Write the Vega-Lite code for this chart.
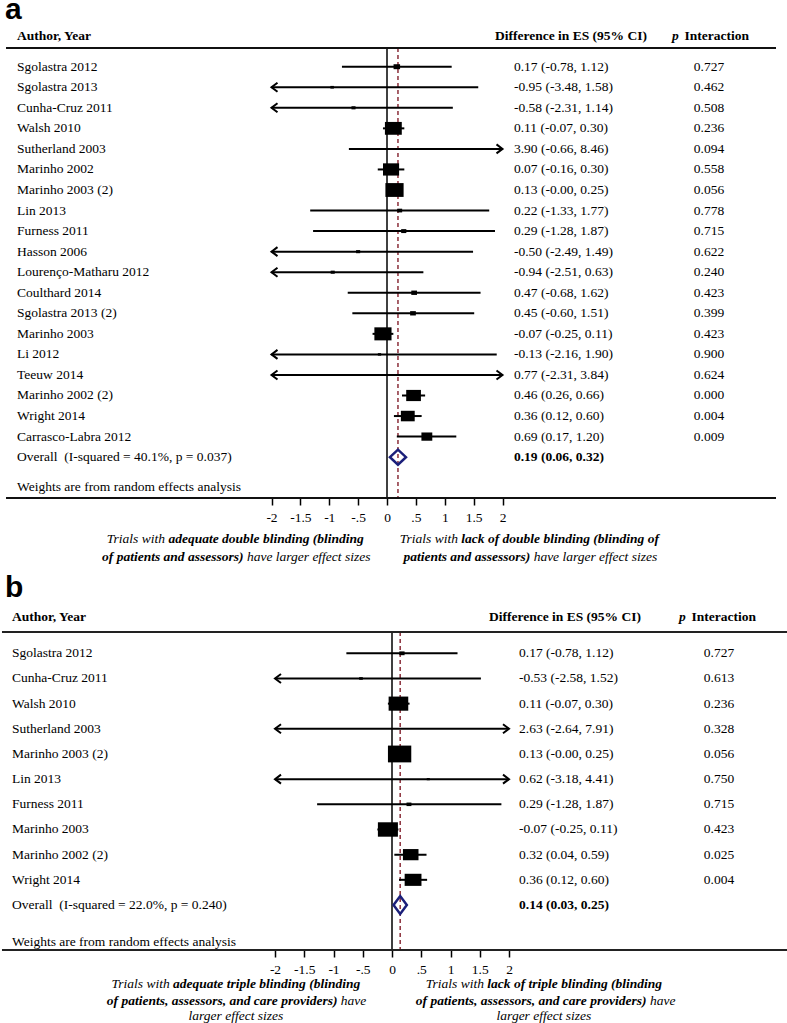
{
"$schema": "https://vega.github.io/schema/vega-lite/v6.json",
"padding": {"top": -5, "bottom": 0, "left": 0, "right": 0},
"spacing": 70,
"bounds": "flush",
"background": "white",
"config": {"view": {"stroke": null}, "text": {"font": "Liberation Serif", "fontSize": 13.5, "color": "black"}},
"datasets": {
"a_rows": [
{"row": 1, "study": "Sgolastra 2012", "es": 0.17, "lo": -0.78, "hi": 1.12, "wt": 2.2, "ci": "0.17 (-0.78, 1.12)", "p": "0.727"},
{"row": 2, "study": "Sgolastra 2013", "es": -0.95, "lo": -3.48, "hi": 1.58, "wt": 0.64, "ci": "-0.95 (-3.48, 1.58)", "p": "0.462"},
{"row": 3, "study": "Cunha-Cruz 2011", "es": -0.58, "lo": -2.31, "hi": 1.14, "wt": 0.86, "ci": "-0.58 (-2.31, 1.14)", "p": "0.508"},
{"row": 4, "study": "Walsh 2010", "es": 0.11, "lo": -0.07, "hi": 0.30, "wt": 14.7, "ci": "0.11 (-0.07, 0.30)", "p": "0.236"},
{"row": 5, "study": "Sutherland 2003", "es": 3.90, "lo": -0.66, "hi": 8.46, "wt": 0.14, "ci": "3.90 (-0.66, 8.46)", "p": "0.094"},
{"row": 6, "study": "Marinho 2002", "es": 0.07, "lo": -0.16, "hi": 0.30, "wt": 13.4, "ci": "0.07 (-0.16, 0.30)", "p": "0.558"},
{"row": 7, "study": "Marinho 2003 (2)", "es": 0.13, "lo": -0.00, "hi": 0.25, "wt": 17.1, "ci": "0.13 (-0.00, 0.25)", "p": "0.056"},
{"row": 8, "study": "Lin 2013", "es": 0.22, "lo": -1.33, "hi": 1.77, "wt": 1.24, "ci": "0.22 (-1.33, 1.77)", "p": "0.778"},
{"row": 9, "study": "Furness 2011", "es": 0.29, "lo": -1.28, "hi": 1.87, "wt": 1.38, "ci": "0.29 (-1.28, 1.87)", "p": "0.715"},
{"row": 10, "study": "Hasson 2006", "es": -0.50, "lo": -2.49, "hi": 1.49, "wt": 0.86, "ci": "-0.50 (-2.49, 1.49)", "p": "0.622"},
{"row": 11, "study": "Lourenço-Matharu 2012", "es": -0.94, "lo": -2.51, "hi": 0.63, "wt": 0.86, "ci": "-0.94 (-2.51, 0.63)", "p": "0.240"},
{"row": 12, "study": "Coulthard 2014", "es": 0.47, "lo": -0.68, "hi": 1.62, "wt": 1.69, "ci": "0.47 (-0.68, 1.62)", "p": "0.423"},
{"row": 13, "study": "Sgolastra 2013 (2)", "es": 0.45, "lo": -0.60, "hi": 1.51, "wt": 1.69, "ci": "0.45 (-0.60, 1.51)", "p": "0.399"},
{"row": 14, "study": "Marinho 2003", "es": -0.07, "lo": -0.25, "hi": 0.11, "wt": 15.2, "ci": "-0.07 (-0.25, 0.11)", "p": "0.423"},
{"row": 15, "study": "Li 2012", "es": -0.13, "lo": -2.16, "hi": 1.90, "wt": 0.55, "ci": "-0.13 (-2.16, 1.90)", "p": "0.900"},
{"row": 16, "study": "Teeuw 2014", "es": 0.77, "lo": -2.31, "hi": 3.84, "wt": 0.31, "ci": "0.77 (-2.31, 3.84)", "p": "0.624"},
{"row": 17, "study": "Marinho 2002 (2)", "es": 0.46, "lo": 0.26, "hi": 0.66, "wt": 11.2, "ci": "0.46 (0.26, 0.66)", "p": "0.000"},
{"row": 18, "study": "Wright 2014", "es": 0.36, "lo": 0.12, "hi": 0.60, "wt": 9.9, "ci": "0.36 (0.12, 0.60)", "p": "0.004"},
{"row": 19, "study": "Carrasco-Labra 2012", "es": 0.69, "lo": 0.17, "hi": 1.20, "wt": 6.1, "ci": "0.69 (0.17, 1.20)", "p": "0.009"}
],
"a_overall": [
{"row": 20, "label": "Overall\u00a0 (I-squared = 40.1%, p = 0.037)", "es": 0.19, "lo": 0.06, "hi": 0.32, "ci": "0.19 (0.06, 0.32)"}
],
"b_rows": [
{"row": 1, "study": "Sgolastra 2012", "es": 0.17, "lo": -0.78, "hi": 1.12, "wt": 1.44, "ci": "0.17 (-0.78, 1.12)", "p": "0.727"},
{"row": 2, "study": "Cunha-Cruz 2011", "es": -0.53, "lo": -2.58, "hi": 1.52, "wt": 0.70, "ci": "-0.53 (-2.58, 1.52)", "p": "0.613"},
{"row": 3, "study": "Walsh 2010", "es": 0.11, "lo": -0.07, "hi": 0.30, "wt": 19.9, "ci": "0.11 (-0.07, 0.30)", "p": "0.236"},
{"row": 4, "study": "Sutherland 2003", "es": 2.63, "lo": -2.64, "hi": 7.91, "wt": 0.31, "ci": "2.63 (-2.64, 7.91)", "p": "0.328"},
{"row": 5, "study": "Marinho 2003 (2)", "es": 0.13, "lo": -0.00, "hi": 0.25, "wt": 28.1, "ci": "0.13 (-0.00, 0.25)", "p": "0.056"},
{"row": 6, "study": "Lin 2013", "es": 0.62, "lo": -3.18, "hi": 4.41, "wt": 0.49, "ci": "0.62 (-3.18, 4.41)", "p": "0.750"},
{"row": 7, "study": "Furness 2011", "es": 0.29, "lo": -1.28, "hi": 1.87, "wt": 1.24, "ci": "0.29 (-1.28, 1.87)", "p": "0.715"},
{"row": 8, "study": "Marinho 2003", "es": -0.07, "lo": -0.25, "hi": 0.11, "wt": 20.7, "ci": "-0.07 (-0.25, 0.11)", "p": "0.423"},
{"row": 9, "study": "Marinho 2002 (2)", "es": 0.32, "lo": 0.04, "hi": 0.59, "wt": 12.5, "ci": "0.32 (0.04, 0.59)", "p": "0.025"},
{"row": 10, "study": "Wright 2014", "es": 0.36, "lo": 0.12, "hi": 0.60, "wt": 14.6, "ci": "0.36 (0.12, 0.60)", "p": "0.004"}
],
"b_overall": [
{"row": 11, "label": "Overall\u00a0 (I-squared = 22.0%, p = 0.240)", "es": 0.14, "lo": 0.03, "hi": 0.25, "ci": "0.14 (0.03, 0.25)"}
]
},
"vconcat": [
{
"width": 787, "height": 498,
"resolve": {"scale": {"x": "independent"}},
"layer": [
{"layer": [
{"data": {"values": [{}]}, "mark": {"type": "rule", "color": "black", "strokeWidth": 1.5},
 "encoding": {"x": {"datum": 0, "type": "quantitative", "scale": {"domain": [-2, 2], "range": [269.5, 500.5], "clamp": true, "nice": false, "zero": false}, "axis": {"values": [-2, -1.5, -1, -0.5, 0, 0.5, 1, 1.5, 2], "domain": false, "grid": false, "tickSize": 7, "tickWidth": 1.5, "tickColor": "black", "labelFont": "Liberation Serif", "labelFontSize": 13.5, "labelColor": "black", "labelPadding": 5, "labelExpr": "(datum.value < 0 ? '-' : '') + replace(toString(abs(datum.value)), '0.', '.')", "title": null, "labelOverlap": false, "labelFlush": false, "labelBound": false}},
  "y": {"datum": 0.09, "type": "quantitative", "scale": {"domain": [-2.246, 21.988], "reverse": true, "nice": false, "zero": false}, "axis": null}, "y2": {"datum": 21.988}}},
{"data": {"name": "a_overall"}, "mark": {"type": "rule", "color": "#8b2e3a", "strokeWidth": 1.5, "strokeDash": [4, 3]},
 "encoding": {"x": {"field": "es", "type": "quantitative", "scale": {"domain": [-2, 2], "range": [269.5, 500.5], "clamp": true, "nice": false, "zero": false}, "axis": {"values": [-2, -1.5, -1, -0.5, 0, 0.5, 1, 1.5, 2], "domain": false, "grid": false, "tickSize": 7, "tickWidth": 1.5, "tickColor": "black", "labelFont": "Liberation Serif", "labelFontSize": 13.5, "labelColor": "black", "labelPadding": 5, "labelExpr": "(datum.value < 0 ? '-' : '') + replace(toString(abs(datum.value)), '0.', '.')", "title": null, "labelOverlap": false, "labelFlush": false, "labelBound": false}},
  "y": {"datum": 0.09, "type": "quantitative", "scale": {"domain": [-2.246, 21.988], "reverse": true, "nice": false, "zero": false}, "axis": null}, "y2": {"datum": 21.988}}},
{"data": {"name": "a_rows"}, "mark": {"type": "rule", "color": "black", "strokeWidth": 2},
 "encoding": {"x": {"field": "lo", "type": "quantitative", "scale": {"domain": [-2, 2], "range": [269.5, 500.5], "clamp": true, "nice": false, "zero": false}, "axis": {"values": [-2, -1.5, -1, -0.5, 0, 0.5, 1, 1.5, 2], "domain": false, "grid": false, "tickSize": 7, "tickWidth": 1.5, "tickColor": "black", "labelFont": "Liberation Serif", "labelFontSize": 13.5, "labelColor": "black", "labelPadding": 5, "labelExpr": "(datum.value < 0 ? '-' : '') + replace(toString(abs(datum.value)), '0.', '.')", "title": null, "labelOverlap": false, "labelFlush": false, "labelBound": false}},
  "x2": {"field": "hi"},
  "y": {"field": "row", "type": "quantitative", "scale": {"domain": [-2.246, 21.988], "reverse": true, "nice": false, "zero": false}, "axis": null}}},
{"data": {"name": "a_rows"}, "transform": [{"filter": "datum.lo < -2"}], "mark": {"type": "point", "shape": "M1.2,-0.9L0,0L1.2,0.9", "filled": false, "stroke": "black", "strokeWidth": 2, "size": 100, "opacity": 1},
 "encoding": {"x": {"field": "lo", "type": "quantitative", "scale": {"domain": [-2, 2], "range": [269.5, 500.5], "clamp": true, "nice": false, "zero": false}, "axis": {"values": [-2, -1.5, -1, -0.5, 0, 0.5, 1, 1.5, 2], "domain": false, "grid": false, "tickSize": 7, "tickWidth": 1.5, "tickColor": "black", "labelFont": "Liberation Serif", "labelFontSize": 13.5, "labelColor": "black", "labelPadding": 5, "labelExpr": "(datum.value < 0 ? '-' : '') + replace(toString(abs(datum.value)), '0.', '.')", "title": null, "labelOverlap": false, "labelFlush": false, "labelBound": false}},
  "y": {"field": "row", "type": "quantitative", "scale": {"domain": [-2.246, 21.988], "reverse": true, "nice": false, "zero": false}, "axis": null}}},
{"data": {"name": "a_rows"}, "transform": [{"filter": "datum.hi > 2"}], "mark": {"type": "point", "shape": "M-1.2,-0.9L0,0L-1.2,0.9", "filled": false, "stroke": "black", "strokeWidth": 2, "size": 100, "opacity": 1},
 "encoding": {"x": {"field": "hi", "type": "quantitative", "scale": {"domain": [-2, 2], "range": [269.5, 500.5], "clamp": true, "nice": false, "zero": false}, "axis": {"values": [-2, -1.5, -1, -0.5, 0, 0.5, 1, 1.5, 2], "domain": false, "grid": false, "tickSize": 7, "tickWidth": 1.5, "tickColor": "black", "labelFont": "Liberation Serif", "labelFontSize": 13.5, "labelColor": "black", "labelPadding": 5, "labelExpr": "(datum.value < 0 ? '-' : '') + replace(toString(abs(datum.value)), '0.', '.')", "title": null, "labelOverlap": false, "labelFlush": false, "labelBound": false}},
  "y": {"field": "row", "type": "quantitative", "scale": {"domain": [-2.246, 21.988], "reverse": true, "nice": false, "zero": false}, "axis": null}}},
{"data": {"name": "a_rows"}, "transform": [{"filter": "datum.es >= -2 && datum.es <= 2"}], "mark": {"type": "point", "shape": "M-1,-0.76L1,-0.76L1,0.76L-1,0.76Z", "filled": true, "color": "black", "opacity": 1, "strokeWidth": 0},
 "encoding": {"x": {"field": "es", "type": "quantitative", "scale": {"domain": [-2, 2], "range": [269.5, 500.5], "clamp": true, "nice": false, "zero": false}, "axis": {"values": [-2, -1.5, -1, -0.5, 0, 0.5, 1, 1.5, 2], "domain": false, "grid": false, "tickSize": 7, "tickWidth": 1.5, "tickColor": "black", "labelFont": "Liberation Serif", "labelFontSize": 13.5, "labelColor": "black", "labelPadding": 5, "labelExpr": "(datum.value < 0 ? '-' : '') + replace(toString(abs(datum.value)), '0.', '.')", "title": null, "labelOverlap": false, "labelFlush": false, "labelBound": false}},
  "y": {"field": "row", "type": "quantitative", "scale": {"domain": [-2.246, 21.988], "reverse": true, "nice": false, "zero": false}, "axis": null},
  "size": {"field": "wt", "type": "quantitative", "scale": {"type": "linear", "domain": [0, 20], "range": [0, 581], "zero": true}, "legend": null}}},
{"data": {"name": "a_overall"}, "mark": {"type": "point", "shape": "M-1,0L0,-0.94L1,0L0,0.94Z", "filled": false, "stroke": "#1b1f7a", "strokeWidth": 2.5, "size": 256, "opacity": 1},
 "encoding": {"x": {"field": "es", "type": "quantitative", "scale": {"domain": [-2, 2], "range": [269.5, 500.5], "clamp": true, "nice": false, "zero": false}, "axis": {"values": [-2, -1.5, -1, -0.5, 0, 0.5, 1, 1.5, 2], "domain": false, "grid": false, "tickSize": 7, "tickWidth": 1.5, "tickColor": "black", "labelFont": "Liberation Serif", "labelFontSize": 13.5, "labelColor": "black", "labelPadding": 5, "labelExpr": "(datum.value < 0 ? '-' : '') + replace(toString(abs(datum.value)), '0.', '.')", "title": null, "labelOverlap": false, "labelFlush": false, "labelBound": false}},
  "y": {"field": "row", "type": "quantitative", "scale": {"domain": [-2.246, 21.988], "reverse": true, "nice": false, "zero": false}, "axis": null}}}
]},
{"layer": [
{"data": {"name": "a_rows"}, "mark": {"type": "text", "align": "left", "baseline": "middle"},
 "encoding": {"x": {"datum": -6.407, "type": "quantitative", "scale": {"domain": [-2, 2], "range": [269.5, 500.5], "nice": false, "zero": false}, "axis": null},
  "y": {"field": "row", "type": "quantitative", "scale": {"domain": [-2.246, 21.988], "reverse": true, "nice": false, "zero": false}, "axis": null}, "text": {"field": "study"}}},
{"data": {"name": "a_rows"}, "mark": {"type": "text", "align": "left", "baseline": "middle"},
 "encoding": {"x": {"datum": 2.199, "type": "quantitative", "scale": {"domain": [-2, 2], "range": [269.5, 500.5], "nice": false, "zero": false}, "axis": null},
  "y": {"field": "row", "type": "quantitative", "scale": {"domain": [-2.246, 21.988], "reverse": true, "nice": false, "zero": false}, "axis": null}, "text": {"field": "ci"}}},
{"data": {"name": "a_rows"}, "mark": {"type": "text", "align": "center", "baseline": "middle"},
 "encoding": {"x": {"datum": 5.576, "type": "quantitative", "scale": {"domain": [-2, 2], "range": [269.5, 500.5], "nice": false, "zero": false}, "axis": null},
  "y": {"field": "row", "type": "quantitative", "scale": {"domain": [-2.246, 21.988], "reverse": true, "nice": false, "zero": false}, "axis": null}, "text": {"field": "p"}}},
{"data": {"name": "a_overall"}, "mark": {"type": "text", "align": "left", "baseline": "middle"},
 "encoding": {"x": {"datum": -6.407, "type": "quantitative", "scale": {"domain": [-2, 2], "range": [269.5, 500.5], "nice": false, "zero": false}, "axis": null},
  "y": {"field": "row", "type": "quantitative", "scale": {"domain": [-2.246, 21.988], "reverse": true, "nice": false, "zero": false}, "axis": null}, "text": {"field": "label"}}},
{"data": {"name": "a_overall"}, "mark": {"type": "text", "align": "left", "baseline": "middle", "fontWeight": "bold"},
 "encoding": {"x": {"datum": 2.199, "type": "quantitative", "scale": {"domain": [-2, 2], "range": [269.5, 500.5], "nice": false, "zero": false}, "axis": null},
  "y": {"field": "row", "type": "quantitative", "scale": {"domain": [-2.246, 21.988], "reverse": true, "nice": false, "zero": false}, "axis": null}, "text": {"field": "ci"}}},
{"data": {"values": [{"t": "Weights are from random effects analysis"}]}, "mark": {"type": "text", "align": "left", "baseline": "middle"},
 "encoding": {"x": {"datum": -6.407, "type": "quantitative", "scale": {"domain": [-2, 2], "range": [269.5, 500.5], "nice": false, "zero": false}, "axis": null},
  "y": {"datum": 21.45, "type": "quantitative", "scale": {"domain": [-2.246, 21.988], "reverse": true, "nice": false, "zero": false}, "axis": null}, "text": {"field": "t"}}},
{"data": {"values": [{"t": "Author, Year"}]}, "mark": {"type": "text", "align": "left", "baseline": "middle", "fontWeight": "bold"},
 "encoding": {"x": {"datum": -6.407, "type": "quantitative", "scale": {"domain": [-2, 2], "range": [269.5, 500.5], "nice": false, "zero": false}, "axis": null},
  "y": {"datum": -0.494, "type": "quantitative", "scale": {"domain": [-2.246, 21.988], "reverse": true, "nice": false, "zero": false}, "axis": null}, "text": {"field": "t"}}},
{"data": {"values": [{"t": "Difference in ES (95% CI)"}]}, "mark": {"type": "text", "align": "left", "baseline": "middle", "fontWeight": "bold"},
 "encoding": {"x": {"datum": 1.870, "type": "quantitative", "scale": {"domain": [-2, 2], "range": [269.5, 500.5], "nice": false, "zero": false}, "axis": null},
  "y": {"datum": -0.494, "type": "quantitative", "scale": {"domain": [-2.246, 21.988], "reverse": true, "nice": false, "zero": false}, "axis": null}, "text": {"field": "t"}}},
{"data": {"values": [{"t": "p"}]}, "mark": {"type": "text", "align": "left", "baseline": "middle", "fontWeight": "bold", "fontStyle": "italic"},
 "encoding": {"x": {"datum": 4.935, "type": "quantitative", "scale": {"domain": [-2, 2], "range": [269.5, 500.5], "nice": false, "zero": false}, "axis": null},
  "y": {"datum": -0.494, "type": "quantitative", "scale": {"domain": [-2.246, 21.988], "reverse": true, "nice": false, "zero": false}, "axis": null}, "text": {"field": "t"}}},
{"data": {"values": [{"t": "Interaction"}]}, "mark": {"type": "text", "align": "left", "baseline": "middle", "fontWeight": "bold"},
 "encoding": {"x": {"datum": 5.152, "type": "quantitative", "scale": {"domain": [-2, 2], "range": [269.5, 500.5], "nice": false, "zero": false}, "axis": null},
  "y": {"datum": -0.494, "type": "quantitative", "scale": {"domain": [-2.246, 21.988], "reverse": true, "nice": false, "zero": false}, "axis": null}, "text": {"field": "t"}}},
{"data": {"values": [{}]}, "mark": {"type": "rule", "color": "#111111", "strokeWidth": 2},
 "encoding": {"x": {"datum": -6.597, "type": "quantitative", "scale": {"domain": [-2, 2], "range": [269.5, 500.5], "nice": false, "zero": false}, "axis": null}, "x2": {"datum": 6.736},
  "y": {"datum": 0.09, "type": "quantitative", "scale": {"domain": [-2.246, 21.988], "reverse": true, "nice": false, "zero": false}, "axis": null}}},
{"data": {"values": [{}]}, "mark": {"type": "rule", "color": "#111111", "strokeWidth": 2},
 "encoding": {"x": {"datum": -6.597, "type": "quantitative", "scale": {"domain": [-2, 2], "range": [269.5, 500.5], "nice": false, "zero": false}, "axis": null}, "x2": {"datum": 6.736},
  "y": {"datum": 21.988, "type": "quantitative", "scale": {"domain": [-2.246, 21.988], "reverse": true, "nice": false, "zero": false}, "axis": null}}},
{"data": {"values": [{"t": "a"}]}, "mark": {"type": "text", "align": "left", "baseline": "alphabetic", "font": "Liberation Sans", "fontWeight": "bold", "fontSize": 30},
 "encoding": {"x": {"datum": -6.615, "type": "quantitative", "scale": {"domain": [-2, 2], "range": [269.5, 500.5], "nice": false, "zero": false}, "axis": null},
  "y": {"datum": -1.321, "type": "quantitative", "scale": {"domain": [-2.246, 21.988], "reverse": true, "nice": false, "zero": false}, "axis": null}, "text": {"field": "t"}}},
{"data": {"values": [{"t": "Trials with"}]}, "mark": {"type": "text", "align": "right", "baseline": "middle", "fontStyle": "italic"},
 "encoding": {"x": {"datum": -3.844, "type": "quantitative", "scale": {"domain": [-2, 2], "range": [269.5, 500.5], "nice": false, "zero": false}, "axis": null},
  "y": {"datum": 23.98, "type": "quantitative", "scale": {"domain": [-2.246, 21.988], "reverse": true, "nice": false, "zero": false}, "axis": null}, "text": {"field": "t"}}},
{"data": {"values": [{"t": "adequate double blinding (blinding"}]}, "mark": {"type": "text", "align": "left", "baseline": "middle", "fontStyle": "italic", "fontWeight": "bold"},
 "encoding": {"x": {"datum": -3.785, "type": "quantitative", "scale": {"domain": [-2, 2], "range": [269.5, 500.5], "nice": false, "zero": false}, "axis": null},
  "y": {"datum": 23.98, "type": "quantitative", "scale": {"domain": [-2.246, 21.988], "reverse": true, "nice": false, "zero": false}, "axis": null}, "text": {"field": "t"}}},
{"data": {"values": [{"t": "of patients and assessors)"}]}, "mark": {"type": "text", "align": "right", "baseline": "middle", "fontStyle": "italic", "fontWeight": "bold"},
 "encoding": {"x": {"datum": -2.485, "type": "quantitative", "scale": {"domain": [-2, 2], "range": [269.5, 500.5], "nice": false, "zero": false}, "axis": null},
  "y": {"datum": 24.86, "type": "quantitative", "scale": {"domain": [-2.246, 21.988], "reverse": true, "nice": false, "zero": false}, "axis": null}, "text": {"field": "t"}}},
{"data": {"values": [{"t": "have larger effect sizes"}]}, "mark": {"type": "text", "align": "left", "baseline": "middle", "fontStyle": "italic"},
 "encoding": {"x": {"datum": -2.426, "type": "quantitative", "scale": {"domain": [-2, 2], "range": [269.5, 500.5], "nice": false, "zero": false}, "axis": null},
  "y": {"datum": 24.86, "type": "quantitative", "scale": {"domain": [-2.246, 21.988], "reverse": true, "nice": false, "zero": false}, "axis": null}, "text": {"field": "t"}}},
{"data": {"values": [{"t": "Trials with"}]}, "mark": {"type": "text", "align": "right", "baseline": "middle", "fontStyle": "italic"},
 "encoding": {"x": {"datum": 1.228, "type": "quantitative", "scale": {"domain": [-2, 2], "range": [269.5, 500.5], "nice": false, "zero": false}, "axis": null},
  "y": {"datum": 23.98, "type": "quantitative", "scale": {"domain": [-2.246, 21.988], "reverse": true, "nice": false, "zero": false}, "axis": null}, "text": {"field": "t"}}},
{"data": {"values": [{"t": "lack of double blinding (blinding of"}]}, "mark": {"type": "text", "align": "left", "baseline": "middle", "fontStyle": "italic", "fontWeight": "bold"},
 "encoding": {"x": {"datum": 1.287, "type": "quantitative", "scale": {"domain": [-2, 2], "range": [269.5, 500.5], "nice": false, "zero": false}, "axis": null},
  "y": {"datum": 23.98, "type": "quantitative", "scale": {"domain": [-2.246, 21.988], "reverse": true, "nice": false, "zero": false}, "axis": null}, "text": {"field": "t"}}},
{"data": {"values": [{"t": "patients and assessors)"}]}, "mark": {"type": "text", "align": "right", "baseline": "middle", "fontStyle": "italic", "fontWeight": "bold"},
 "encoding": {"x": {"datum": 2.480, "type": "quantitative", "scale": {"domain": [-2, 2], "range": [269.5, 500.5], "nice": false, "zero": false}, "axis": null},
  "y": {"datum": 24.86, "type": "quantitative", "scale": {"domain": [-2.246, 21.988], "reverse": true, "nice": false, "zero": false}, "axis": null}, "text": {"field": "t"}}},
{"data": {"values": [{"t": "have larger effect sizes"}]}, "mark": {"type": "text", "align": "left", "baseline": "middle", "fontStyle": "italic"},
 "encoding": {"x": {"datum": 2.539, "type": "quantitative", "scale": {"domain": [-2, 2], "range": [269.5, 500.5], "nice": false, "zero": false}, "axis": null},
  "y": {"datum": 24.86, "type": "quantitative", "scale": {"domain": [-2.246, 21.988], "reverse": true, "nice": false, "zero": false}, "axis": null}, "text": {"field": "t"}}}
]}
]
},
{
"width": 787, "height": 382,
"resolve": {"scale": {"x": "independent"}},
"layer": [
{"layer": [
{"data": {"values": [{}]}, "mark": {"type": "rule", "color": "black", "strokeWidth": 1.5},
 "encoding": {"x": {"datum": 0, "type": "quantitative", "scale": {"domain": [-2, 2], "range": [273, 507], "clamp": true, "nice": false, "zero": false}, "axis": {"values": [-2, -1.5, -1, -0.5, 0, 0.5, 1, 1.5, 2], "domain": false, "grid": false, "tickSize": 7, "tickWidth": 1.5, "tickColor": "black", "labelFont": "Liberation Serif", "labelFontSize": 13.5, "labelColor": "black", "labelPadding": 5, "labelExpr": "(datum.value < 0 ? '-' : '') + replace(toString(abs(datum.value)), '0.', '.')", "title": null, "labelOverlap": false, "labelFlush": false, "labelBound": false}},
  "y": {"datum": 0.154, "type": "quantitative", "scale": {"domain": [-2.389, 12.788], "reverse": true, "nice": false, "zero": false}, "axis": null}, "y2": {"datum": 12.788}}},
{"data": {"name": "b_overall"}, "mark": {"type": "rule", "color": "#8b2e3a", "strokeWidth": 1.5, "strokeDash": [4, 3]},
 "encoding": {"x": {"field": "es", "type": "quantitative", "scale": {"domain": [-2, 2], "range": [273, 507], "clamp": true, "nice": false, "zero": false}, "axis": {"values": [-2, -1.5, -1, -0.5, 0, 0.5, 1, 1.5, 2], "domain": false, "grid": false, "tickSize": 7, "tickWidth": 1.5, "tickColor": "black", "labelFont": "Liberation Serif", "labelFontSize": 13.5, "labelColor": "black", "labelPadding": 5, "labelExpr": "(datum.value < 0 ? '-' : '') + replace(toString(abs(datum.value)), '0.', '.')", "title": null, "labelOverlap": false, "labelFlush": false, "labelBound": false}},
  "y": {"datum": 0.154, "type": "quantitative", "scale": {"domain": [-2.389, 12.788], "reverse": true, "nice": false, "zero": false}, "axis": null}, "y2": {"datum": 12.788}}},
{"data": {"name": "b_rows"}, "mark": {"type": "rule", "color": "black", "strokeWidth": 2},
 "encoding": {"x": {"field": "lo", "type": "quantitative", "scale": {"domain": [-2, 2], "range": [273, 507], "clamp": true, "nice": false, "zero": false}, "axis": {"values": [-2, -1.5, -1, -0.5, 0, 0.5, 1, 1.5, 2], "domain": false, "grid": false, "tickSize": 7, "tickWidth": 1.5, "tickColor": "black", "labelFont": "Liberation Serif", "labelFontSize": 13.5, "labelColor": "black", "labelPadding": 5, "labelExpr": "(datum.value < 0 ? '-' : '') + replace(toString(abs(datum.value)), '0.', '.')", "title": null, "labelOverlap": false, "labelFlush": false, "labelBound": false}},
  "x2": {"field": "hi"},
  "y": {"field": "row", "type": "quantitative", "scale": {"domain": [-2.389, 12.788], "reverse": true, "nice": false, "zero": false}, "axis": null}}},
{"data": {"name": "b_rows"}, "transform": [{"filter": "datum.lo < -2"}], "mark": {"type": "point", "shape": "M1.2,-0.9L0,0L1.2,0.9", "filled": false, "stroke": "black", "strokeWidth": 2, "size": 100, "opacity": 1},
 "encoding": {"x": {"field": "lo", "type": "quantitative", "scale": {"domain": [-2, 2], "range": [273, 507], "clamp": true, "nice": false, "zero": false}, "axis": {"values": [-2, -1.5, -1, -0.5, 0, 0.5, 1, 1.5, 2], "domain": false, "grid": false, "tickSize": 7, "tickWidth": 1.5, "tickColor": "black", "labelFont": "Liberation Serif", "labelFontSize": 13.5, "labelColor": "black", "labelPadding": 5, "labelExpr": "(datum.value < 0 ? '-' : '') + replace(toString(abs(datum.value)), '0.', '.')", "title": null, "labelOverlap": false, "labelFlush": false, "labelBound": false}},
  "y": {"field": "row", "type": "quantitative", "scale": {"domain": [-2.389, 12.788], "reverse": true, "nice": false, "zero": false}, "axis": null}}},
{"data": {"name": "b_rows"}, "transform": [{"filter": "datum.hi > 2"}], "mark": {"type": "point", "shape": "M-1.2,-0.9L0,0L-1.2,0.9", "filled": false, "stroke": "black", "strokeWidth": 2, "size": 100, "opacity": 1},
 "encoding": {"x": {"field": "hi", "type": "quantitative", "scale": {"domain": [-2, 2], "range": [273, 507], "clamp": true, "nice": false, "zero": false}, "axis": {"values": [-2, -1.5, -1, -0.5, 0, 0.5, 1, 1.5, 2], "domain": false, "grid": false, "tickSize": 7, "tickWidth": 1.5, "tickColor": "black", "labelFont": "Liberation Serif", "labelFontSize": 13.5, "labelColor": "black", "labelPadding": 5, "labelExpr": "(datum.value < 0 ? '-' : '') + replace(toString(abs(datum.value)), '0.', '.')", "title": null, "labelOverlap": false, "labelFlush": false, "labelBound": false}},
  "y": {"field": "row", "type": "quantitative", "scale": {"domain": [-2.389, 12.788], "reverse": true, "nice": false, "zero": false}, "axis": null}}},
{"data": {"name": "b_rows"}, "transform": [{"filter": "datum.es >= -2 && datum.es <= 2"}], "mark": {"type": "point", "shape": "M-1,-0.72L1,-0.72L1,0.72L-1,0.72Z", "filled": true, "color": "black", "opacity": 1, "strokeWidth": 0},
 "encoding": {"x": {"field": "es", "type": "quantitative", "scale": {"domain": [-2, 2], "range": [273, 507], "clamp": true, "nice": false, "zero": false}, "axis": {"values": [-2, -1.5, -1, -0.5, 0, 0.5, 1, 1.5, 2], "domain": false, "grid": false, "tickSize": 7, "tickWidth": 1.5, "tickColor": "black", "labelFont": "Liberation Serif", "labelFontSize": 13.5, "labelColor": "black", "labelPadding": 5, "labelExpr": "(datum.value < 0 ? '-' : '') + replace(toString(abs(datum.value)), '0.', '.')", "title": null, "labelOverlap": false, "labelFlush": false, "labelBound": false}},
  "y": {"field": "row", "type": "quantitative", "scale": {"domain": [-2.389, 12.788], "reverse": true, "nice": false, "zero": false}, "axis": null},
  "size": {"field": "wt", "type": "quantitative", "scale": {"type": "linear", "domain": [0, 30], "range": [0, 385.7], "zero": true}, "legend": null}}},
{"data": {"name": "b_overall"}, "mark": {"type": "point", "shape": "M-1,0L0,-1.35L1,0L0,1.35Z", "filled": false, "stroke": "#1b1f7a", "strokeWidth": 2.5, "size": 177, "opacity": 1},
 "encoding": {"x": {"field": "es", "type": "quantitative", "scale": {"domain": [-2, 2], "range": [273, 507], "clamp": true, "nice": false, "zero": false}, "axis": {"values": [-2, -1.5, -1, -0.5, 0, 0.5, 1, 1.5, 2], "domain": false, "grid": false, "tickSize": 7, "tickWidth": 1.5, "tickColor": "black", "labelFont": "Liberation Serif", "labelFontSize": 13.5, "labelColor": "black", "labelPadding": 5, "labelExpr": "(datum.value < 0 ? '-' : '') + replace(toString(abs(datum.value)), '0.', '.')", "title": null, "labelOverlap": false, "labelFlush": false, "labelBound": false}},
  "y": {"field": "row", "type": "quantitative", "scale": {"domain": [-2.389, 12.788], "reverse": true, "nice": false, "zero": false}, "axis": null}}}
]},
{"layer": [
{"data": {"name": "b_rows"}, "mark": {"type": "text", "align": "left", "baseline": "middle"},
 "encoding": {"x": {"datum": -6.496, "type": "quantitative", "scale": {"domain": [-2, 2], "range": [273, 507], "nice": false, "zero": false}, "axis": null},
  "y": {"field": "row", "type": "quantitative", "scale": {"domain": [-2.389, 12.788], "reverse": true, "nice": false, "zero": false}, "axis": null}, "text": {"field": "study"}}},
{"data": {"name": "b_rows"}, "mark": {"type": "text", "align": "left", "baseline": "middle"},
 "encoding": {"x": {"datum": 2.171, "type": "quantitative", "scale": {"domain": [-2, 2], "range": [273, 507], "nice": false, "zero": false}, "axis": null},
  "y": {"field": "row", "type": "quantitative", "scale": {"domain": [-2.389, 12.788], "reverse": true, "nice": false, "zero": false}, "axis": null}, "text": {"field": "ci"}}},
{"data": {"name": "b_rows"}, "mark": {"type": "text", "align": "center", "baseline": "middle"},
 "encoding": {"x": {"datum": 5.590, "type": "quantitative", "scale": {"domain": [-2, 2], "range": [273, 507], "nice": false, "zero": false}, "axis": null},
  "y": {"field": "row", "type": "quantitative", "scale": {"domain": [-2.389, 12.788], "reverse": true, "nice": false, "zero": false}, "axis": null}, "text": {"field": "p"}}},
{"data": {"name": "b_overall"}, "mark": {"type": "text", "align": "left", "baseline": "middle"},
 "encoding": {"x": {"datum": -6.496, "type": "quantitative", "scale": {"domain": [-2, 2], "range": [273, 507], "nice": false, "zero": false}, "axis": null},
  "y": {"field": "row", "type": "quantitative", "scale": {"domain": [-2.389, 12.788], "reverse": true, "nice": false, "zero": false}, "axis": null}, "text": {"field": "label"}}},
{"data": {"name": "b_overall"}, "mark": {"type": "text", "align": "left", "baseline": "middle", "fontWeight": "bold"},
 "encoding": {"x": {"datum": 2.171, "type": "quantitative", "scale": {"domain": [-2, 2], "range": [273, 507], "nice": false, "zero": false}, "axis": null},
  "y": {"field": "row", "type": "quantitative", "scale": {"domain": [-2.389, 12.788], "reverse": true, "nice": false, "zero": false}, "axis": null}, "text": {"field": "ci"}}},
{"data": {"values": [{"t": "Weights are from random effects analysis"}]}, "mark": {"type": "text", "align": "left", "baseline": "middle"},
 "encoding": {"x": {"datum": -6.496, "type": "quantitative", "scale": {"domain": [-2, 2], "range": [273, 507], "nice": false, "zero": false}, "axis": null},
  "y": {"datum": 12.47, "type": "quantitative", "scale": {"domain": [-2.389, 12.788], "reverse": true, "nice": false, "zero": false}, "axis": null}, "text": {"field": "t"}}},
{"data": {"values": [{"t": "Author, Year"}]}, "mark": {"type": "text", "align": "left", "baseline": "middle", "fontWeight": "bold"},
 "encoding": {"x": {"datum": -6.496, "type": "quantitative", "scale": {"domain": [-2, 2], "range": [273, 507], "nice": false, "zero": false}, "axis": null},
  "y": {"datum": -0.442, "type": "quantitative", "scale": {"domain": [-2.389, 12.788], "reverse": true, "nice": false, "zero": false}, "axis": null}, "text": {"field": "t"}}},
{"data": {"values": [{"t": "Difference in ES (95% CI)"}]}, "mark": {"type": "text", "align": "left", "baseline": "middle", "fontWeight": "bold"},
 "encoding": {"x": {"datum": 1.658, "type": "quantitative", "scale": {"domain": [-2, 2], "range": [273, 507], "nice": false, "zero": false}, "axis": null},
  "y": {"datum": -0.442, "type": "quantitative", "scale": {"domain": [-2.389, 12.788], "reverse": true, "nice": false, "zero": false}, "axis": null}, "text": {"field": "t"}}},
{"data": {"values": [{"t": "p"}]}, "mark": {"type": "text", "align": "left", "baseline": "middle", "fontWeight": "bold", "fontStyle": "italic"},
 "encoding": {"x": {"datum": 4.906, "type": "quantitative", "scale": {"domain": [-2, 2], "range": [273, 507], "nice": false, "zero": false}, "axis": null},
  "y": {"datum": -0.442, "type": "quantitative", "scale": {"domain": [-2.389, 12.788], "reverse": true, "nice": false, "zero": false}, "axis": null}, "text": {"field": "t"}}},
{"data": {"values": [{"t": "Interaction"}]}, "mark": {"type": "text", "align": "left", "baseline": "middle", "fontWeight": "bold"},
 "encoding": {"x": {"datum": 5.120, "type": "quantitative", "scale": {"domain": [-2, 2], "range": [273, 507], "nice": false, "zero": false}, "axis": null},
  "y": {"datum": -0.442, "type": "quantitative", "scale": {"domain": [-2.389, 12.788], "reverse": true, "nice": false, "zero": false}, "axis": null}, "text": {"field": "t"}}},
{"data": {"values": [{}]}, "mark": {"type": "rule", "color": "#222222", "strokeWidth": 2},
 "encoding": {"x": {"datum": -6.667, "type": "quantitative", "scale": {"domain": [-2, 2], "range": [273, 507], "nice": false, "zero": false}, "axis": null}, "x2": {"datum": 6.786},
  "y": {"datum": 0.154, "type": "quantitative", "scale": {"domain": [-2.389, 12.788], "reverse": true, "nice": false, "zero": false}, "axis": null}}},
{"data": {"values": [{}]}, "mark": {"type": "rule", "color": "#222222", "strokeWidth": 2},
 "encoding": {"x": {"datum": -6.667, "type": "quantitative", "scale": {"domain": [-2, 2], "range": [273, 507], "nice": false, "zero": false}, "axis": null}, "x2": {"datum": 6.786},
  "y": {"datum": 12.788, "type": "quantitative", "scale": {"domain": [-2.389, 12.788], "reverse": true, "nice": false, "zero": false}, "axis": null}}},
{"data": {"values": [{"t": "b"}]}, "mark": {"type": "text", "align": "left", "baseline": "alphabetic", "font": "Liberation Sans", "fontWeight": "bold", "fontSize": 30},
 "encoding": {"x": {"datum": -6.615, "type": "quantitative", "scale": {"domain": [-2, 2], "range": [273, 507], "nice": false, "zero": false}, "axis": null},
  "y": {"datum": -1.237, "type": "quantitative", "scale": {"domain": [-2.389, 12.788], "reverse": true, "nice": false, "zero": false}, "axis": null}, "text": {"field": "t"}}},
{"data": {"values": [{"t": "Trials with"}]}, "mark": {"type": "text", "align": "right", "baseline": "middle", "fontStyle": "italic"},
 "encoding": {"x": {"datum": -3.800, "type": "quantitative", "scale": {"domain": [-2, 2], "range": [273, 507], "nice": false, "zero": false}, "axis": null},
  "y": {"datum": 14.14, "type": "quantitative", "scale": {"domain": [-2.389, 12.788], "reverse": true, "nice": false, "zero": false}, "axis": null}, "text": {"field": "t"}}},
{"data": {"values": [{"t": "adequate triple blinding (blinding"}]}, "mark": {"type": "text", "align": "left", "baseline": "middle", "fontStyle": "italic", "fontWeight": "bold"},
 "encoding": {"x": {"datum": -3.742, "type": "quantitative", "scale": {"domain": [-2, 2], "range": [273, 507], "nice": false, "zero": false}, "axis": null},
  "y": {"datum": 14.14, "type": "quantitative", "scale": {"domain": [-2.389, 12.788], "reverse": true, "nice": false, "zero": false}, "axis": null}, "text": {"field": "t"}}},
{"data": {"values": [{"t": "of patients, assessors, and care providers)"}]}, "mark": {"type": "text", "align": "right", "baseline": "middle", "fontStyle": "italic", "fontWeight": "bold"},
 "encoding": {"x": {"datum": -0.932, "type": "quantitative", "scale": {"domain": [-2, 2], "range": [273, 507], "nice": false, "zero": false}, "axis": null},
  "y": {"datum": 14.81, "type": "quantitative", "scale": {"domain": [-2.389, 12.788], "reverse": true, "nice": false, "zero": false}, "axis": null}, "text": {"field": "t"}}},
{"data": {"values": [{"t": "have"}]}, "mark": {"type": "text", "align": "left", "baseline": "middle", "fontStyle": "italic"},
 "encoding": {"x": {"datum": -0.874, "type": "quantitative", "scale": {"domain": [-2, 2], "range": [273, 507], "nice": false, "zero": false}, "axis": null},
  "y": {"datum": 14.81, "type": "quantitative", "scale": {"domain": [-2.389, 12.788], "reverse": true, "nice": false, "zero": false}, "axis": null}, "text": {"field": "t"}}},
{"data": {"values": [{"t": "larger effect sizes"}]}, "mark": {"type": "text", "align": "center", "baseline": "middle", "fontStyle": "italic"},
 "encoding": {"x": {"datum": -2.667, "type": "quantitative", "scale": {"domain": [-2, 2], "range": [273, 507], "nice": false, "zero": false}, "axis": null},
  "y": {"datum": 15.41, "type": "quantitative", "scale": {"domain": [-2.389, 12.788], "reverse": true, "nice": false, "zero": false}, "axis": null}, "text": {"field": "t"}}},
{"data": {"values": [{"t": "Trials with"}]}, "mark": {"type": "text", "align": "right", "baseline": "middle", "fontStyle": "italic"},
 "encoding": {"x": {"datum": 1.571, "type": "quantitative", "scale": {"domain": [-2, 2], "range": [273, 507], "nice": false, "zero": false}, "axis": null},
  "y": {"datum": 14.14, "type": "quantitative", "scale": {"domain": [-2.389, 12.788], "reverse": true, "nice": false, "zero": false}, "axis": null}, "text": {"field": "t"}}},
{"data": {"values": [{"t": "lack of triple blinding (blinding"}]}, "mark": {"type": "text", "align": "left", "baseline": "middle", "fontStyle": "italic", "fontWeight": "bold"},
 "encoding": {"x": {"datum": 1.629, "type": "quantitative", "scale": {"domain": [-2, 2], "range": [273, 507], "nice": false, "zero": false}, "axis": null},
  "y": {"datum": 14.14, "type": "quantitative", "scale": {"domain": [-2.389, 12.788], "reverse": true, "nice": false, "zero": false}, "axis": null}, "text": {"field": "t"}}},
{"data": {"values": [{"t": "of patients, assessors, and care providers)"}]}, "mark": {"type": "text", "align": "right", "baseline": "middle", "fontStyle": "italic", "fontWeight": "bold"},
 "encoding": {"x": {"datum": 4.350, "type": "quantitative", "scale": {"domain": [-2, 2], "range": [273, 507], "nice": false, "zero": false}, "axis": null},
  "y": {"datum": 14.81, "type": "quantitative", "scale": {"domain": [-2.389, 12.788], "reverse": true, "nice": false, "zero": false}, "axis": null}, "text": {"field": "t"}}},
{"data": {"values": [{"t": "have"}]}, "mark": {"type": "text", "align": "left", "baseline": "middle", "fontStyle": "italic"},
 "encoding": {"x": {"datum": 4.409, "type": "quantitative", "scale": {"domain": [-2, 2], "range": [273, 507], "nice": false, "zero": false}, "axis": null},
  "y": {"datum": 14.81, "type": "quantitative", "scale": {"domain": [-2.389, 12.788], "reverse": true, "nice": false, "zero": false}, "axis": null}, "text": {"field": "t"}}},
{"data": {"values": [{"t": "larger effect sizes"}]}, "mark": {"type": "text", "align": "center", "baseline": "middle", "fontStyle": "italic"},
 "encoding": {"x": {"datum": 2.598, "type": "quantitative", "scale": {"domain": [-2, 2], "range": [273, 507], "nice": false, "zero": false}, "axis": null},
  "y": {"datum": 15.41, "type": "quantitative", "scale": {"domain": [-2.389, 12.788], "reverse": true, "nice": false, "zero": false}, "axis": null}, "text": {"field": "t"}}}
]}
]
}
]
}
